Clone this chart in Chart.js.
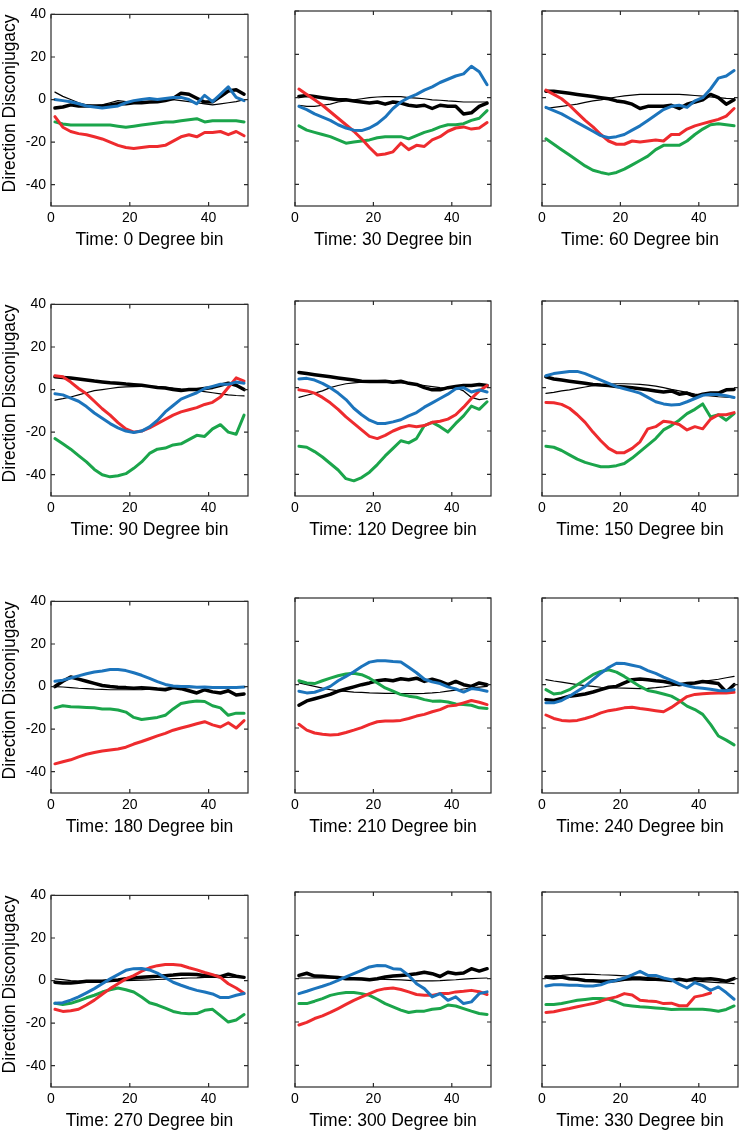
<!DOCTYPE html>
<html><head><meta charset="utf-8">
<script src="https://cdn.jsdelivr.net/npm/chart.js@4.4.1/dist/chart.umd.min.js"></script>
<style>
html,body{margin:0;padding:0;background:#fff;}
body{width:742px;height:1132px;position:relative;overflow:hidden;}
canvas{position:absolute;}
</style></head><body>
<script>
// ---- data ----
const timeBins = [1,3,5,7,9,11,13,15,17,19,21,23,25,27,29,31,33,35,37,39,41,43,45,47,49];
const xTicks = [0, 20, 40];
const yTicks = [-40, -20, 0, 20, 40];
const angles = [0, 30, 60, 90, 120, 150, 180, 210, 240, 270, 300, 330];
const panelTitles = ['Time: 0 Degree bin','Time: 30 Degree bin','Time: 60 Degree bin','Time: 90 Degree bin','Time: 120 Degree bin','Time: 150 Degree bin','Time: 180 Degree bin','Time: 210 Degree bin','Time: 240 Degree bin','Time: 270 Degree bin','Time: 300 Degree bin','Time: 330 Degree bin'];
const yLabel = 'Direction Disconjugacy';

const thick_0 = [-4,-3.5,-2.5,-3,-3,-3,-3,-2.5,-2,-2,-1.5,-1.5,-1.2,-1,-0.5,0.5,3,2.5,0.6,-1.2,-1,1.4,4,4.6,2.5];
const thin_0  = [3.5,1.5,0,-1.5,-2.5,-3,-2.5,-1.5,-0.5,-1,-1,-1,-1,-0.5,0,0,-0.5,-1,-1.5,-2,-2.5,-2,-1.5,-1,0];
const blue_0  = [0,-0.5,-1,-2,-3,-3.5,-4,-3.5,-3,-1.5,-0.5,0,0.5,0,0.5,1,1,0,-2,2,-1,2.5,6,1,-0.5];
const red_0   = [-8,-13,-15,-16,-16.5,-17.5,-18.5,-20,-21.5,-22.5,-23,-22.5,-22,-22,-21.5,-19.5,-17.5,-16.5,-17.5,-15.5,-15.5,-15,-16.5,-15,-17];
const green_0 = [-10.5,-11.5,-12,-12,-12,-12,-12,-12,-12.5,-13,-12.5,-12,-11.5,-11,-10.5,-10.5,-10,-9.5,-9,-10.5,-10,-10,-10,-10,-10.5];

const thick_30 = [0.5,1,0.5,0,-0.5,-1,-1,-1.5,-2,-2.5,-2,-3,-2,-2.5,-3.5,-4,-3.5,-5,-3.5,-4,-4,-7.5,-7,-4,-2.5];
const thin_30  = [-3.5,-4,-4,-3.5,-3,-2,-1.5,-1,-0.5,0,0.3,0.5,0.5,0.5,0,-0.2,-0.5,-1,-1.2,-1.5,-1.7,-2,-2,-2,-2];
const blue_30  = [-4,-5.5,-7.5,-9,-10.5,-12.5,-14,-15,-15.2,-14,-12,-9,-5,-2,0,1.5,3.5,5,7,8.5,10,11,14.5,12,6];
const red_30   = [4,1.5,-1,-3.5,-6.5,-9.5,-12.5,-15.5,-19,-23,-26.5,-26,-25,-21,-24,-22,-22.5,-19.5,-18,-15.5,-14,-13.5,-14.5,-14,-11.5];
const green_30 = [-13,-15,-16,-17,-18,-19.5,-21,-20.5,-20,-19.5,-18.5,-18,-18,-18,-19,-17.5,-16,-15,-13.5,-12.5,-12.5,-12,-10.5,-9.5,-6];

const thick_60 = [3,3,2.5,2,1.5,1,0.5,0,-0.5,-1.5,-2,-3,-5,-4,-4,-4,-3.5,-5,-3,-2,-1,1.5,0,-3,-1];
const thin_60  = [-5,-4.5,-4,-3.5,-3,-2.2,-1.5,-1,-0.3,0.3,0.8,1.2,1.5,1.5,1.5,1.5,1.5,1.5,1.3,1,0.7,0.3,0,-0.3,-0.5];
const blue_60  = [-4.5,-6,-7.5,-9.5,-11.5,-13.5,-15.5,-17.5,-18.5,-18,-17,-15,-13,-10.5,-8,-5.5,-4,-3.5,-4.5,-1.5,0,4,9,10,12.5];
const red_60   = [3.5,1.5,-0.5,-3.5,-7,-10.5,-13.5,-17,-20,-21.5,-21.5,-20,-20.5,-20,-19.5,-20,-17,-17,-14.5,-13,-12,-11,-10,-8.5,-5];
const green_60 = [-19,-21.5,-24,-26.5,-29,-31.5,-33.5,-34.5,-35.3,-34.5,-33,-31,-29,-27,-24,-22,-22,-22,-20,-17,-14.5,-12.5,-12,-12.5,-13];

const thick_90 = [6,5.7,5.4,5,4.5,4,3.6,3.2,3,2.6,2.3,2,1.5,1,0.7,0,-0.5,0,0,0.5,1,2,3,2,0];
const thin_90  = [-5,-4.3,-3.5,-2.5,-1.5,-0.5,0,0.5,1,1.3,1.4,1.5,1.5,1.3,1,0.7,0.3,0,-0.5,-1,-1.5,-2,-2.5,-2.8,-3];
const blue_90  = [-2,-2.5,-4,-5.5,-8,-11,-13.5,-16,-18,-19.5,-20.2,-19.5,-17.5,-14.5,-10.5,-7.5,-4.5,-3,-1.5,0.5,1.5,2.5,2.5,3.5,3];
const red_90   = [6.5,6,3.5,0.5,-2,-5.5,-9,-12,-15.5,-18.5,-20,-19.5,-18,-16,-14,-12,-10.5,-9.5,-8.5,-7,-6,-3.5,1,5.5,4];
const green_90 = [-23,-25.5,-28,-31,-34,-37.5,-40,-41,-40.5,-39.5,-37,-34,-30,-28,-27.5,-26,-25.5,-23.5,-21.5,-22,-18.5,-16.5,-20,-21,-12];

const thick_120 = [7,6.5,6,5.5,5,4.5,4,3.5,3,2.8,2.8,3,2.5,3,2,1.5,0,-1,-1,0,0.5,1,1,1.5,1];
const thin_120  = [-4.5,-3.5,-2.5,-1.5,0,1,1.8,2.2,2.5,2.6,2.6,2.5,2.3,2.2,2,1.5,1,0.5,0,-0.2,0,-1.5,-4.5,-5.5,-5];
const blue_120  = [4,4.3,3.5,2,0,-2.5,-5.5,-9.5,-12.5,-15,-16.5,-16.5,-15.8,-14.8,-13,-11.5,-9,-7,-5,-3,-0.5,0,-2,-1,-2];
const red_120   = [-1,-1.5,-2.5,-4.5,-7,-10,-13.5,-16.5,-19.5,-22.5,-23.5,-22,-20,-18.5,-17.5,-18,-17.5,-16,-15.5,-14.5,-12.5,-9,-5,-1.5,1];
const green_120 = [-27,-27.5,-29.5,-32,-35,-38,-42,-43,-41.5,-39,-35.5,-31.5,-28,-24.5,-25.5,-23.5,-17.5,-16,-18,-20.5,-16.5,-13,-8.5,-10,-6.5];

const thick_150 = [5,4,3.5,3,2.5,2,1.5,1.2,1,0.5,0.3,0,-0.5,-1,-1.5,-2,-1.5,-3,-2.5,-4,-3,-2.5,-2.5,-1,-0.8];
const thin_150  = [-2.6,-2.2,-1.5,-1,-0.3,0.3,0.9,1.3,1.6,1.8,1.8,1.7,1.5,1.2,0.7,0,-0.8,-1.5,-2.2,-3,-3.5,-3.8,-4.2,-4.4,-4.6];
const blue_150  = [5.5,6.5,7,7.5,7.5,6.5,5,3.5,2,0.5,-0.5,-1.5,-2.5,-4.5,-6.5,-7.5,-8,-7.8,-6.5,-5,-3.5,-3,-3.2,-3.7,-4.5];
const red_150   = [-6.8,-7,-7.7,-9.5,-12.5,-16,-20.5,-24.5,-28,-30,-30,-28,-25,-19,-18,-15.5,-16,-17,-19.5,-18,-19,-14.5,-12.5,-12.5,-11.5];
const green_150 = [-27,-27.5,-29,-31,-33,-34.5,-35.5,-36.5,-36.5,-36,-35,-32.5,-29.5,-26.5,-23.5,-19.5,-17.5,-15,-12,-10,-7.5,-13.5,-12.5,-15,-12];

const thick_180 = [0,2.5,4.5,3.5,2.5,1.5,0.5,0,-0.3,-0.5,-0.8,-0.5,-0.8,-1.2,-1.5,-0.5,-1,-2,-3,-1.5,-2.5,-3,-2,-4,-3.5];
const thin_180  = [0,-0.2,-0.5,-0.8,-1,-1.2,-1.3,-1.5,-1.5,-1.5,-1.5,-1.4,-1.2,-1,-0.9,-0.8,-0.6,-0.5,-0.4,-0.3,-0.2,-0.1,0,0,0];
const blue_180  = [2.5,3,4,5,6,6.8,7.3,8,8,7.5,6.5,5.3,3.8,2.3,1,0.3,0,0,-0.3,-0.2,-0.5,-0.5,-0.5,-0.5,-0.2];
const red_180   = [-36.3,-35.3,-34.4,-33,-31.8,-31,-30.3,-29.8,-29.3,-28.5,-27,-25.8,-24.5,-23.2,-22,-20.5,-19.5,-18.5,-17.5,-16.5,-18,-19,-17,-19.5,-16];
const green_180 = [-10,-9,-9.5,-9.6,-9.8,-10,-10.5,-10.5,-11,-12,-14.5,-15.5,-15,-14.5,-13.5,-10.5,-8,-7.3,-6.8,-7,-9,-10,-13.5,-12.5,-12.5];

const thick_210 = [-9.5,-7.5,-6.5,-5.5,-4.5,-3,-2,-1,0,0.8,1.8,2.3,1.8,2.7,2.3,3,1.5,2.5,1.5,0,1.5,0,-0.8,0.8,0];
const thin_210  = [0.8,0,-0.8,-1.6,-2.3,-2.8,-3.1,-3.4,-3.6,-3.8,-3.9,-4,-4,-4.1,-4.1,-4.1,-4,-3.8,-3.5,-3,-2.5,-2,-1.5,-1.1,-0.8];
const blue_210  = [-3,-3.8,-3.5,-2.3,-0.8,1.8,3.8,6,8.4,10.4,11,11,10.7,10.5,8,5.5,2.5,1.3,0.5,-1,-2,-3.4,-1.8,-2.2,-3];
const red_210   = [-18.3,-21,-22.3,-22.9,-23.2,-23,-22.1,-21,-19.8,-18.3,-17.1,-16.8,-16.8,-16.5,-15.6,-14.5,-13.7,-12.5,-11.5,-9.9,-9.5,-8.4,-7.3,-8.1,-9.2];
const green_210 = [1.8,0.8,0.5,1.8,3,4.1,4.9,5.3,4.6,3,0.8,-1.5,-3,-4.6,-5.3,-5.8,-6.9,-7.6,-7.5,-8,-8.9,-9.2,-9.5,-10.7,-11];

const thick_240 = [-6.9,-7.3,-6.4,-5.3,-4.9,-4.3,-3.4,-2.3,-1.2,-0.8,0.8,2.3,2.6,2.3,1.8,1.5,0.8,0,0.5,0.8,1.5,1,0.5,-3.4,0];
const thin_240  = [2.3,1.7,1.2,0.6,0,-0.4,-0.8,-1.2,-1.3,-1.5,-1.6,-1.7,-1.8,-1.7,-1.4,-1,-0.5,0,0.5,1,1.5,2,2.5,3.2,3.8];
const blue_240  = [-8.4,-8.4,-7.3,-5.3,-3,-0.8,2.3,5.3,7.9,9.9,9.8,9,8.2,6.5,5.2,3.5,2,0.5,-0.5,-1.3,-1.7,-2.1,-2.7,-2.8,-2.3];
const red_240   = [-14,-15.6,-16.5,-16.8,-16.5,-15.6,-14.5,-13,-12,-11.5,-10.7,-10.4,-11,-11.5,-12,-12.5,-10.5,-8,-5.5,-4.5,-4.2,-4,-3.8,-3.8,-3.5];
const green_240 = [-2.3,-4.3,-3.8,-2.3,0,2.3,4.6,6.1,6.9,5.8,3.8,1.5,-0.8,-2.7,-3.4,-4.3,-5.3,-7.3,-9.9,-11.5,-13.7,-18.3,-23.7,-25.6,-27.8];

const thick_270 = [-0.8,-1.2,-1.2,-0.8,-0.3,-0.3,-0.3,0,0.3,0.8,1.2,1.5,1.8,2,2.3,2.6,3,3,2.8,2.3,2.3,1.8,3,2,1.5];
const thin_270  = [0.8,0.4,0,-0.2,-0.3,-0.3,-0.3,-0.2,0,0,0.1,0.2,0.3,0.5,0.7,0.9,1,1.2,1.3,1.5,1.5,1.5,1.5,1.6,1.8];
const blue_270  = [-10.7,-10.4,-9.2,-7.7,-5.8,-3.8,-1.5,0.8,2.8,4.8,5.6,5.7,5,3.5,1.3,-0.8,-2.2,-3.5,-4.6,-5.4,-6.3,-8,-8,-6.9,-6.1];
const red_270   = [-13.5,-14.5,-14.2,-13.5,-11.5,-9.2,-6.4,-3.8,-1.5,0.8,2.3,4.4,6,7,7.5,7.5,7.2,6,5,3.8,2.8,1.5,-1.5,-3.5,-6];
const green_270 = [-10.7,-11.2,-10.7,-9.5,-8.1,-6.9,-5.4,-4.3,-3.5,-4.3,-5.4,-7.7,-10.4,-11.5,-13,-14.5,-15.3,-15.6,-15.5,-14,-13.5,-16.5,-19.5,-18.5,-16];

const thick_300 = [1.5,2.5,1.2,1.1,0.8,0.5,0,0,-0.2,-0.5,0,0.8,1.2,1.5,1.8,2.3,3,2.3,1,3,2.3,2.6,4.6,3.5,4.6];
const thin_300  = [0.3,0.3,0.3,0.3,0.3,0.3,0.3,0.3,0.2,0,-0.2,-0.3,-0.4,-0.6,-0.8,-1,-1,-1,-0.9,-0.7,-0.5,-0.2,0,0.2,0.3];
const blue_300  = [-6.9,-5.8,-4.6,-3.5,-2.3,-0.8,0.8,2.3,3.8,5.4,6.1,6,4.6,4.3,1.5,-2.3,-4.6,-8.4,-6.9,-10,-8.4,-11.5,-10.7,-6.9,-6.1];
const red_300   = [-21.4,-20.2,-18.4,-17.2,-15.6,-13.8,-11.9,-10,-8.4,-6.9,-5.4,-4.6,-4.3,-5,-6.1,-7.3,-7.7,-7.7,-6.9,-6.9,-6.1,-5.8,-5.4,-6,-7.3];
const green_300 = [-11.5,-11.5,-10.4,-9.2,-7.7,-6.9,-6.4,-6.4,-6.9,-7.7,-9.5,-11.5,-13,-14.5,-15.6,-15,-15,-14.1,-13.8,-12.2,-12.6,-13.8,-15,-16.1,-16.5];

const thick_330 = [0.8,0.3,0.8,0,-0.3,-0.8,-1,-1.2,-1.2,-0.8,-0.3,0,0,-0.3,-0.3,-0.5,-0.8,-0.3,-0.8,0,-0.3,0,-0.5,-1.2,0];
const thin_330  = [1.2,1.4,1.5,1.8,2,2.1,2,1.8,1.7,1.5,1.3,1,0.8,0.5,0.2,0,-0.3,-0.6,-0.9,-1.2,-1.4,-1.6,-1.8,-2,-2.3];
const blue_330  = [-3.4,-2.8,-2.8,-3,-3,-3.4,-3.4,-2.8,-1.5,-0.8,0.3,1.8,3.4,1.5,1.5,0.3,-0.5,-2.5,-4.3,-1.8,-3.2,-5.4,-3.8,-6.4,-9.5];
const red_330   = [-15.6,-15.3,-14.5,-13.8,-13,-12.2,-11.5,-10.4,-9.2,-8.4,-6.9,-7.5,-10,-10.3,-10.5,-11.5,-11.3,-12.5,-12.5,-8.4,-7.7,-6.6,null,null,null];
const green_330 = [-11.9,-11.9,-11.5,-10.7,-10,-9.6,-9.2,-9.2,-9.5,-10.7,-12.2,-12.6,-13,-13.2,-13.5,-13.8,-14.2,-14.1,-14.1,-14.1,-14.1,-14.5,-15,-14.2,-12.6];

// series per panel, in the order: thick black, thin black, blue, red, green
const panelSeries = [
  [thick_0, thin_0, blue_0, red_0, green_0],
  [thick_30, thin_30, blue_30, red_30, green_30],
  [thick_60, thin_60, blue_60, red_60, green_60],
  [thick_90, thin_90, blue_90, red_90, green_90],
  [thick_120, thin_120, blue_120, red_120, green_120],
  [thick_150, thin_150, blue_150, red_150, green_150],
  [thick_180, thin_180, blue_180, red_180, green_180],
  [thick_210, thin_210, blue_210, red_210, green_210],
  [thick_240, thin_240, blue_240, red_240, green_240],
  [thick_270, thin_270, blue_270, red_270, green_270],
  [thick_300, thin_300, blue_300, red_300, green_300],
  [thick_330, thin_330, blue_330, red_330, green_330]
];

// ---- layout & style ----
const FONT = "'Liberation Sans', Arial, Helvetica, sans-serif";
const colLeft = [51, 295, 542];
const colWidth = [197, 196, 196];
const rowTop = [11, 301, 598, 892];
const plotH = 195;
const AXIS_W = 50, AXIS_H = 45, PAD_T = 10, PAD_R = 3;
const COLORS = { blue: '#1c74bc', red: '#ee2b2e', green: '#1ba54b', black: '#000000' };

const framePlugin = {
  id: 'matlabFrame',
  afterDatasetsDraw(chart) {
    const {ctx, chartArea: a, scales: {x, y}} = chart;
    ctx.save();
    ctx.strokeStyle = '#2b2b2b';
    ctx.lineWidth = 1.2;
    ctx.strokeRect(a.left, a.top, a.right - a.left, a.bottom - a.top);
    const tl = 4;
    ctx.beginPath();
    xTicks.forEach(v => {
      const p = x.getPixelForValue(v);
      ctx.moveTo(p, a.bottom); ctx.lineTo(p, a.bottom - tl);
      ctx.moveTo(p, a.top); ctx.lineTo(p, a.top + tl);
    });
    yTicks.forEach(v => {
      const p = y.getPixelForValue(v);
      ctx.moveTo(a.left, p); ctx.lineTo(a.left + tl, p);
      ctx.moveTo(a.right, p); ctx.lineTo(a.right - tl, p);
    });
    ctx.stroke();
    ctx.restore();
  }
};

const pts = arr => timeBins.map((t, k) => ({x: t, y: arr[k]}));

angles.forEach((ang, i) => {
  const r = Math.floor(i / 3), c = i % 3;
  const W = colWidth[c] + AXIS_W + PAD_R, H = plotH + PAD_T + AXIS_H;
  const cv = document.createElement('canvas');
  cv.width = W; cv.height = H;
  cv.style.width = W + 'px'; cv.style.height = H + 'px';
  cv.style.left = (colLeft[c] - AXIS_W) + 'px';
  cv.style.top = (rowTop[r] - PAD_T) + 'px';
  document.body.appendChild(cv);
  const [thick, thin, blue, red, green] = panelSeries[i];
  const first = c === 0;
  new Chart(cv, {
    type: 'line',
    data: {
      datasets: [
        {label: 'blue', data: pts(blue), borderColor: COLORS.blue, borderWidth: 3},
        {label: 'red', data: pts(red), borderColor: COLORS.red, borderWidth: 3},
        {label: 'green', data: pts(green), borderColor: COLORS.green, borderWidth: 3},
        {label: 'thick black', data: pts(thick), borderColor: COLORS.black, borderWidth: 3.5},
        {label: 'thin black', data: pts(thin), borderColor: COLORS.black, borderWidth: 1.2}
      ]
    },
    options: {
      responsive: false, animation: false, devicePixelRatio: 1,
      parsing: false, spanGaps: false,
      elements: { point: { radius: 0 }, line: { tension: 0, borderJoinStyle: 'round', borderCapStyle: 'round' } },
      layout: { padding: { left: 0, top: PAD_T, right: PAD_R, bottom: 0 } },
      plugins: { legend: { display: false }, tooltip: { enabled: false }, title: { display: false } },
      scales: {
        x: {
          type: 'linear', min: 0, max: 50,
          afterBuildTicks: s => { s.ticks = xTicks.map(v => ({value: v})); },
          afterFit: s => { s.height = AXIS_H; },
          grid: { display: false, drawTicks: false }, border: { display: false },
          ticks: { padding: 4, color: '#000', maxRotation: 0, autoSkip: false, font: { family: FONT, size: 14 } },
          title: { display: true, text: panelTitles[i], color: '#000', padding: { top: 0, bottom: 0 }, font: { family: FONT, size: 17.5, lineHeight: 1.2 } }
        },
        y: {
          type: 'linear', min: -50, max: 40,
          afterBuildTicks: s => { s.ticks = yTicks.map(v => ({value: v})); },
          afterFit: s => { s.width = AXIS_W; },
          grid: { display: false, drawTicks: false }, border: { display: false },
          ticks: { display: first, padding: 5, color: '#000', autoSkip: false, font: { family: FONT, size: 14 } },
          title: { display: first, text: yLabel, align: 'end', color: '#000', padding: { top: 0, bottom: 0 }, font: { family: FONT, size: 17.5, lineHeight: 1.05 } }
        }
      }
    },
    plugins: [framePlugin]
  });
});
</script>
</body></html>
